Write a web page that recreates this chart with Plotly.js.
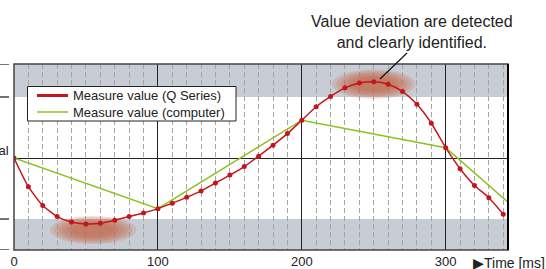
<!DOCTYPE html>
<html><head><meta charset="utf-8">
<script src="https://cdn.plot.ly/plotly-3.0.1.min.js"></script>
<style>html,body{margin:0;padding:0;background:#fff;}#chart{width:546px;height:269px;}</style>
</head><body><div id="chart"></div>
<script>
// ---- data ----
const timeQ = [0,10,20,30,40,50,60,70,80,90,100,110,120,130,140,150,160,170,180,190,200,210,220,230,240,250,260,270,280,290,300,310,320,330,340];
const valueQ = [0,-0.47,-0.78,-0.96,-1.05,-1.08,-1.07,-1.02,-0.96,-0.90,-0.83,-0.74,-0.645,-0.54,-0.41,-0.28,-0.14,0.03,0.21,0.40,0.62,0.84,1.01,1.15,1.23,1.25,1.21,1.09,0.88,0.57,0.17,-0.175,-0.45,-0.65,-0.92];
const timePC = [0,100,200,300,343];
const valuePC = [0,-0.83,0.62,0.17,-0.72];
const tickVals = [0,100,200,300];
const tickText = ['0','100','200','300'];
const seriesNames = ['Measure value (Q Series)','Measure value (computer)'];
const annoText = 'Value deviation are detected<br>and clearly identified.';
const axisLabel = '\u25B6Time [ms]';
const nominalLabel = 'Nominal';

const RED = '#c4161c', GREEN = '#8cc21f', BAND = '#c8ccd5';
const W = 494, H = 186; // plot size in px
const px = v => v / W, py = v => v / H;   // px offsets from plot left / plot top
const PX = v => px(v - 14), PY = v => 1 - py(v - 64); // absolute page px -> paper

const blobs = [];
function blob(cx, cy, rx, ry){
  const n = 6;
  for (let i = 0; i < n; i++){
    const f = 1 - i * 0.1;
    blobs.push({type:'circle', xref:'x', yref:'y', layer:'between',
      x0: cx - rx*f, x1: cx + rx*f, y0: cy - ry*f, y1: cy + ry*f,
      fillcolor:'rgb(194,100,64)', opacity:0.2, line:{width:0}});
  }
}
blob(55, -1.18, 30, 0.23);
blob(250, 1.21, 29, 0.24);

const shapes = [
  {type:'rect', xref:'paper', yref:'y', x0:0, x1:1, y0:1, y1:1.541, fillcolor:BAND, line:{width:0}, layer:'below'},
  {type:'rect', xref:'paper', yref:'y', x0:0, x1:1, y0:-1.508, y1:-1, fillcolor:BAND, line:{width:0}, layer:'below'},
  ...blobs,
  {type:'rect', xref:'paper', yref:'paper', x0:0, x1:1, y0:0, y1:1, line:{color:'#444', width:1.5}, layer:'above'},
  {type:'line', xref:'paper', yref:'paper', x0:1, x1:1, y0:0, y1:1, line:{color:'#000', width:2}, layer:'above'},
  {type:'line', xref:'paper', yref:'paper', x0:PX(380), x1:PX(407), y0:PY(79), y1:PY(53), line:{color:'#111', width:1.2}, layer:'above'},
  // legend box and keys
  {type:'rect', xref:'paper', yref:'paper', x0:PX(27.5), x1:PX(236), y0:PY(86.5), y1:PY(121), fillcolor:'#fff', line:{color:'#222', width:1}, layer:'above'},
  {type:'line', xref:'paper', yref:'paper', x0:PX(37), x1:PX(68), y0:PY(95.5), y1:PY(95.5), line:{color:RED, width:3}, layer:'above'},
  {type:'line', xref:'paper', yref:'paper', x0:PX(37), x1:PX(68), y0:PY(112), y1:PY(112), line:{color:GREEN, width:1.5}, layer:'above'}
];
[1.541, 1, -1, -1.508].forEach(v => shapes.push({type:'line', xref:'paper', yref:'y', x0:px(-14), x1:px(-5), y0:v, y1:v, line:{color:'#444', width:1.5}}));

const traces = [
  {x: timePC, y: valuePC, mode:'lines', line:{color:GREEN, width:1.5}, name:seriesNames[1]},
  {x: timeQ, y: valueQ, mode:'lines+markers', line:{color:RED, width:1.5, shape:'spline', smoothing:0.6}, marker:{color:RED, size:5}, name:seriesNames[0]}
];

const layout = {
  width:546, height:269,
  margin:{l:14, r:38, t:64, b:19},
  paper_bgcolor:'#fff', plot_bgcolor:'#fff',
  font:{family:'Liberation Sans, Arial, sans-serif', size:13, color:'#222'},
  showlegend:false,
  xaxis:{range:[0,343.3], tickvals:tickVals, ticktext:tickText, ticks:'', showline:false, zeroline:false,
    showgrid:true, gridcolor:'#222', gridwidth:1, ticklabelstandoff:2,
    minor:{dtick:10, tick0:0, showgrid:true, gridcolor:'#a5a5a5', gridwidth:1, griddash:'5px,3px'},
    tickfont:{size:13, color:'#222'}, fixedrange:true},
  yaxis:{range:[-1.508,1.541], showticklabels:false, ticks:'', showgrid:false, zeroline:true, zerolinecolor:'#222', zerolinewidth:1, showline:false, fixedrange:true},
  shapes: shapes,
  annotations:[
    {xref:'paper', yref:'paper', x:PX(412), y:PY(32), text:annoText, showarrow:false, xanchor:'center', yanchor:'middle', align:'center', font:{size:16, color:'#222'}},
    {xref:'paper', yref:'paper', x:PX(471), y:PY(263), text:axisLabel, showarrow:false, xanchor:'left', yanchor:'middle', font:{size:14, color:'#222'}},
    {xref:'paper', yref:'y', x:PX(11), y:0, yshift:8, text:nominalLabel, showarrow:false, xanchor:'right', yanchor:'middle', font:{size:13, color:'#222'}},
    {xref:'paper', yref:'paper', x:PX(71), y:PY(95.5), text:seriesNames[0], showarrow:false, xanchor:'left', yanchor:'middle', font:{size:13, color:'#222'}},
    {xref:'paper', yref:'paper', x:PX(71), y:PY(112), text:seriesNames[1], showarrow:false, xanchor:'left', yanchor:'middle', font:{size:13, color:'#222'}}
  ]
};
Plotly.newPlot('chart', traces, layout, {displayModeBar:false, staticPlot:true});
</script></body></html>
